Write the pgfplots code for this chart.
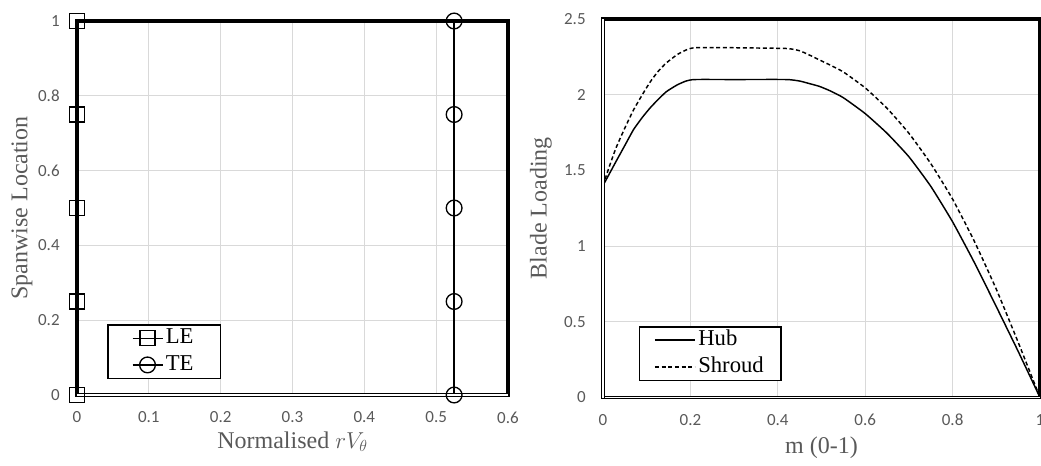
\documentclass[border=0pt]{standalone}
\usepackage{pgfplots}
\pgfplotsset{compat=1.18}
\usepackage{fontspec}
\setmainfont{Liberation Serif}
\newfontfamily\tickfont{Carlito}
\definecolor{gridgray}{HTML}{D9D9D9}
\definecolor{ticktext}{HTML}{595959}

\pgfplotstableread{
m hub shroud
0     1.40  1.40
0.015 1.48  1.53
0.03  1.56  1.65
0.05  1.665 1.78
0.07  1.77  1.90
0.09  1.85  2.00
0.107 1.91  2.08
0.125 1.965 2.15
0.145 2.02  2.21
0.17  2.065 2.265
0.19  2.09  2.295
0.21  2.10  2.31
0.3   2.10  2.31
0.42  2.10  2.305
0.45  2.09  2.29
0.47  2.075 2.265
0.495 2.055 2.23
0.52  2.025 2.195
0.55  1.98  2.15
0.6   1.875 2.045
0.65  1.745 1.91
0.7   1.59  1.745
0.75  1.395 1.545
0.8   1.16  1.31
0.85  0.89  1.03
0.9   0.60  0.715
0.95  0.305 0.365
1.0   0.00  0.00
}\loadingtable

\pgfplotsset{
  myaxis/.style={
    scale only axis,
    clip=false,
    axis line style={line width=2.5pt},
    grid=major,
    major grid style={gridgray, line width=0.75pt},
    major tick length=0pt,
    tick label style={font=\fontsize{12.75}{15}\tickfont, text=ticktext},
    /pgf/number format/assume math mode=true,
    xticklabel shift=9pt,
    yticklabel shift=9.5pt,
    legend cell align=left,
    legend style={draw=black, line width=1pt, fill=white,
      font=\fontsize{17}{20}\selectfont, text=black,
      column sep=0pt, row sep=0pt, inner ysep=0pt,
      nodes={inner xsep=2pt, inner ysep=2pt, text height=12pt, text depth=4pt}},
  }
}

\begin{document}
\begin{tikzpicture}
\begin{axis}[myaxis,
  at={(0pt,0pt)}, anchor=south west,
  width=323.25pt, height=280.5pt,
  xmin=0, xmax=0.6, ymin=0, ymax=1,
  xtick={0,0.1,0.2,0.3,0.4,0.5,0.6},
  ytick={0,0.2,0.4,0.6,0.8,1},
  xlabel={Normalised $rV_\theta$},
  ylabel={Spanwise Location},
  every axis x label/.style={at={(axis description cs:0.5,-0.1417)}, anchor=base, font=\fontsize{18}{21}\selectfont, text=ticktext},
  every axis y label/.style={at={(axis description cs:-0.1276,0.5)}, rotate=90, anchor=center, font=\fontsize{18}{21}\selectfont, text=ticktext},
  legend style={at={(axis description cs:0.07,0.043)}, anchor=south west, inner xsep=18pt},
  legend image code/.code={\draw[mark repeat=2,mark phase=2,#1] plot coordinates {(0pt,0pt) (11.25pt,0pt) (22.5pt,0pt)};},
]
\addplot[black, line width=1pt, mark=square, mark size=5.6pt, mark options={line width=1pt, fill=none}]
  coordinates {(0,0) (0,0.25) (0,0.5) (0,0.75) (0,1)};
\addlegendentry{LE}
\addplot[black, line width=1pt, mark=o, mark size=5.9pt, mark options={line width=1pt, fill=none}]
  coordinates {(0.525,0) (0.525,0.25) (0.525,0.5) (0.525,0.75) (0.525,1)};
\addlegendentry{TE}
\draw[line width=0.9pt, double=white, double distance=0.9pt] (rel axis cs:0,0) -- (rel axis cs:1,0);
\end{axis}

\begin{axis}[myaxis,
  at={(394.5pt,-1.875pt)}, anchor=south west,
  width=327.75pt, height=283.9pt,
  xmin=0, xmax=1, ymin=0, ymax=2.5,
  xtick={0,0.2,0.4,0.6,0.8,1},
  ytick={0,0.5,1,1.5,2,2.5},
  yticklabel style={/pgf/number format/fixed},
  xlabel={m (0-1)},
  ylabel={Blade Loading},
  every axis x label/.style={at={(axis description cs:0.5,-0.1466)}, anchor=base, font=\fontsize{18}{21}\selectfont, text=ticktext},
  every axis y label/.style={at={(axis description cs:-0.142,0.5)}, rotate=90, anchor=center, font=\fontsize{18}{21}\selectfont, text=ticktext},
  legend style={at={(axis description cs:0.082,0.044)}, anchor=south west, inner xsep=11pt},
  legend image code/.code={\draw[#1] (0pt,0pt) -- (30pt,0pt);},
]
\addplot[black, line width=1.1pt, smooth, tension=0.3] table[x=m, y=hub] {\loadingtable};
\addlegendentry{Hub}
\addplot[black, line width=1.1pt, dash pattern=on 3pt off 2pt, smooth, tension=0.3] table[x=m, y=shroud] {\loadingtable};
\addlegendentry{Shroud}
\draw[line width=0.9pt, double=white, double distance=0.9pt] (rel axis cs:0,0) -- (rel axis cs:1,0);
\draw[line width=0.9pt, double=white, double distance=0.9pt] (rel axis cs:0,0) -- (rel axis cs:0,1);
\end{axis}

\pgfresetboundingbox
\path[use as bounding box] (-57.75pt,-52.5pt) rectangle (723pt,296.25pt);
\end{tikzpicture}
\end{document}
